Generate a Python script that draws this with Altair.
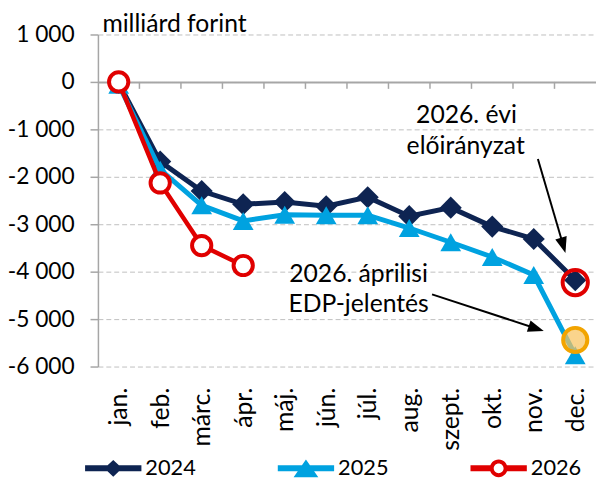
import altair as alt
import pandas as pd

# ---------------- data ----------------
months = ["jan.", "feb.", "márc.", "ápr.", "máj.", "jún.", "júl.", "aug.", "szept.", "okt.", "nov.", "dec."]
series_names = ["2024", "2025", "2026"]
values_2024 = [-20, -1680, -2300, -2580, -2530, -2620, -2430, -2830, -2650, -3050, -3310, -4180]
values_2025 = [-60, -1850, -2600, -2930, -2800, -2810, -2810, -3080, -3380, -3690, -4070, -5760]
values_2026 = [0, -2130, -3450, -3870]
y_ticks = [1000, 0, -1000, -2000, -3000, -4000, -5000, -6000]

# annotation targets (month index, value)
plan_point = [11, -4230]   # 2026. évi előirányzat
edp_point = [11, -5440]    # 2026. áprilisi EDP-jelentés

plan_text = ["2026. évi", "előirányzat"]
plan_text_x = [8.38, 8.36]
plan_text_y = [-700, -1354]
edp_text = ["2026. áprilisi", "EDP-jelentés"]
edp_text_x = [5.78, 5.78]
edp_text_y = [-4042, -4688]

# arrows: start (x, y) -> head centre (x2, y2)
arrow_x = [10.10, 7.55]
arrow_y = [-1625, -4479]
arrow_x2 = [10.71, 10.06]
arrow_y2 = [-3444, -5198]

# category boundaries on the zero line (x-axis ticks)
boundary_x = [i + 0.5 for i in range(11)]

# ---------------- styling ----------------
FONT = "Lato"
NAVY = "#0E2452"
CYAN = "#00A2E0"
RED = "#E00000"
GRAY = "#A6A6A6"
colors = [NAVY, CYAN, RED]
W, H = 504, 336
YMIN, YMAX = -6000, 1000

rows = []
for name, vals in zip(series_names, [values_2024, values_2025, values_2026]):
    for i, v in enumerate(vals):
        rows.append({"series": name, "idx": i, "value": v})
df = pd.DataFrame(rows)

X = alt.Scale(domain=[-0.5, 11.5], nice=False, zero=False)
Y = alt.Scale(domain=[YMIN, YMAX], nice=False, zero=False)

label_expr = "[" + ",".join("'" + m + "'" for m in months) + "][datum.value]"
y_label_expr = "(datum.value < 0 ? '-' : '') + replace(format(abs(datum.value), ','), ',', ' ')"

y_axis = alt.Axis(
    values=y_ticks, labelExpr=y_label_expr, grid=True,
    gridDash={"condition": {"test": "datum.value === 0", "value": [1, 0]}, "value": [5, 3]},
    gridColor={"condition": {"test": "datum.value === 0", "value": GRAY}, "value": "#BFBFBF"},
    gridWidth={"condition": {"test": "datum.value === 0", "value": 2}, "value": 1},
    domainColor=GRAY, domainWidth=1.5, tickColor=GRAY, tickSize=8,
    tickWidth=1.5, labelPadding=16, labelFont=FONT, labelFontSize=23, labelColor="black",
    title="milliárd forint", titleAngle=0, titleX=4, titleY=-3, titleAlign="left",
    titleBaseline="alphabetic", titleFont=FONT, titleFontSize=25, titleFontWeight="normal",
    titleColor="black",
)
x_axis = alt.Axis(
    orient="bottom", values=list(range(12)), labelExpr=label_expr, labelAngle=-90,
    labelAlign="right", labelBaseline="middle", labelPadding=21, labelFont=FONT,
    labelFontSize=25, labelColor="black", domain=False, ticks=False, grid=False, title=None,
)


def yenc(field):
    return alt.Y(field + ":Q", scale=Y, axis=y_axis)


def xenc(field):
    return alt.X(field + ":Q", scale=X, axis=x_axis)


layers = []

# small ticks hanging below the zero line between the months
tick_df = pd.DataFrame({"bx": boundary_x, "zero": [0] * len(boundary_x)})
layers.append(
    alt.Chart(tick_df).mark_tick(orient="vertical", color=GRAY, thickness=1.5, size=7,
                                 yOffset=3.5, opacity=1).encode(x=xenc("bx"), y=yenc("zero"))
)

plan_df = pd.DataFrame({"idx": [plan_point[0]], "value": [plan_point[1]]})
edp_df = pd.DataFrame({"idx": [edp_point[0]], "value": [edp_point[1]]})

point_styles = {
    "2024": dict(shape="diamond", filled=True, fill=NAVY, stroke=NAVY, strokeWidth=0, size=500),
    "2025": dict(shape="triangle-up", filled=True, fill=CYAN, stroke=CYAN, strokeWidth=0, size=440),
    "2026": dict(shape="circle", filled=True, fill="white", stroke=RED, strokeWidth=4, size=380),
}
for name, col in zip(series_names, colors):
    sub = alt.Chart(df).transform_filter(alt.datum.series == name)
    line = sub.mark_line(color=col, strokeWidth=5 if name != "2026" else 4.5).encode(
        x=xenc("idx"), y=yenc("value"), order="idx:Q"
    )
    pts = sub.mark_point(opacity=1, **point_styles[name]).encode(x=xenc("idx"), y=yenc("value"))
    layers += [line, pts]
    if name == "2024":
        layers.append(
            alt.Chart(plan_df).mark_point(shape="circle", filled=False, stroke=RED, strokeWidth=4,
                                          size=650, opacity=1).encode(x=xenc("idx"), y=yenc("value"))
        )

layers.append(
    alt.Chart(edp_df).mark_point(shape="circle", filled=True, fill="#F8C460", fillOpacity=0.72,
                                 stroke="#F2A400", strokeWidth=4, size=600, opacity=1).encode(
        x=xenc("idx"), y=yenc("value"))
)

# arrows
arrow_df = pd.DataFrame({"x": arrow_x, "y": arrow_y, "x2": arrow_x2, "y2": arrow_y2})
layers.append(
    alt.Chart(arrow_df).mark_rule(color="black", strokeWidth=2).encode(
        x=xenc("x"), y=yenc("y"), x2="x2:Q", y2="y2:Q")
)
head_path = "M0,-1 L0.75,1 L-0.75,1 Z"
for i, ang in enumerate([163.6, 108.1]):
    hdf = pd.DataFrame({"x2": [arrow_x2[i]], "y2": [arrow_y2[i]]})
    layers.append(
        alt.Chart(hdf).mark_point(shape=head_path, filled=True, fill="black", strokeWidth=0,
                                  size=256, angle=ang, opacity=1).encode(x=xenc("x2"), y=yenc("y2"))
    )

# annotation texts
text_df = pd.DataFrame({"x": plan_text_x + edp_text_x, "y": plan_text_y + edp_text_y,
                        "t": plan_text + edp_text})
layers.append(
    alt.Chart(text_df).mark_text(font=FONT, fontSize=25, color="black", align="center",
                                 baseline="middle").encode(x=xenc("x"), y=yenc("y"), text="t:N")
)

# legend (symbols = line + marker)
shape_paths = [
    "M-2.85,-0.3 L2.85,-0.3 L2.85,0.3 L-2.85,0.3 Z M0,-0.85 L0.9,0 L0,0.85 L-0.9,0 Z",
    "M-2.85,-0.3 L2.85,-0.3 L2.85,0.3 L-2.85,0.3 Z M0,-0.9 L1.25,0.9 L-1.25,0.9 Z",
    "M-2.85,-0.3 L-0.8,-0.3 L-0.8,0.3 L-2.85,0.3 Z M0.8,-0.3 L2.85,-0.3 L2.85,0.3 L0.8,0.3 Z "
    "M0.9,0 A0.9,0.9 0 1 1 -0.9,0 A0.9,0.9 0 1 1 0.9,0 Z "
    "M0.5,0 A0.5,0.5 0 1 0 -0.5,0 A0.5,0.5 0 1 0 0.5,0 Z",
]
legend = alt.Legend(
    orient="none", legendX=4.5, legendY=428, direction="horizontal", title=None,
    symbolSize=400, symbolOpacity=1, symbolStrokeWidth=0, labelFont=FONT, labelFontSize=22,
    labelColor="black", labelOffset=21.5, columnPadding=82, padding=0,
)
layers.append(
    alt.Chart(df).transform_filter("datum.idx < 0").mark_point(filled=True, opacity=1).encode(
        x=xenc("idx"), y=yenc("value"),
        color=alt.Color("series:N", scale=alt.Scale(domain=series_names, range=colors), legend=legend),
        shape=alt.Shape("series:N", scale=alt.Scale(domain=series_names, range=shape_paths), legend=legend),
    )
)

chart = (
    alt.layer(*layers)
    .properties(
        width=W, height=H,
        autosize=alt.AutoSizeParams(type="none"),
        padding={"left": 91, "top": 24, "right": 0, "bottom": 112},
        background="white",
    )
    .configure_view(stroke=None)
)

chart.save("out.html", embed_options={"renderer": "svg", "actions": False})
